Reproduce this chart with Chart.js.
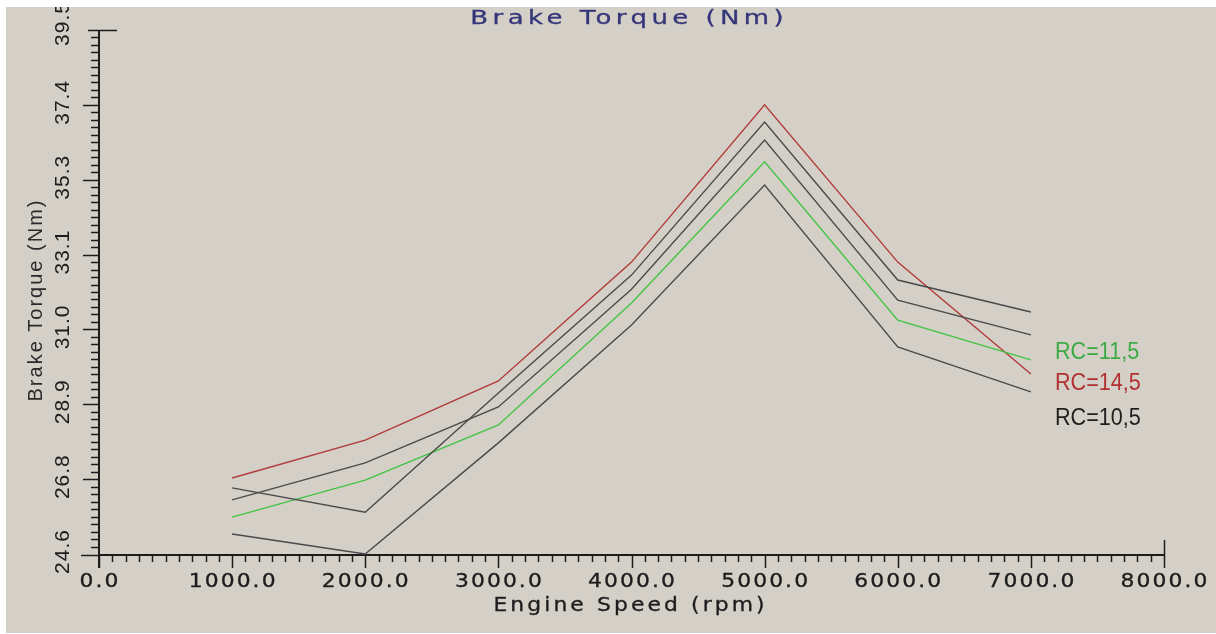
<!DOCTYPE html>
<html>
<head>
<meta charset="utf-8">
<title>Brake Torque (Nm)</title>
<script src="https://cdn.jsdelivr.net/npm/chart.js@4"></script>
<style>
  html, body { margin: 0; padding: 0; background: #ffffff; }
  canvas { display: block; }
</style>
</head>
<body>
<canvas id="torque" width="1216" height="634"></canvas>
<script>
// Engine speed sample points (rpm)
const rpm = [1000, 2000, 3000, 4000, 5000, 6000, 7000];

// Brake torque (Nm) per compression ratio
const torqueRC145 = [26.76, 27.84, 29.52, 32.90, 37.37, 32.90, 29.72];
const torqueRC115 = [25.65, 26.70, 28.27, 31.74, 35.75, 31.25, 30.12];
const torqueRC105 = [25.17, 24.60, 27.76, 31.11, 35.09, 30.49, 29.21];
// Two further unlabelled runs plotted in dark grey
const torqueGreyA = [26.48, 25.79, 29.18, 32.53, 36.88, 32.39, 31.48];
const torqueGreyB = [26.14, 27.19, 28.78, 32.13, 36.37, 31.82, 30.83];

// Axis tick labels
const xTickLabels = ['0.0', '1000.0', '2000.0', '3000.0', '4000.0', '5000.0', '6000.0', '7000.0', '8000.0'];
const yTickLabels = ['24.6', '26.8', '28.9', '31.0', '33.1', '35.3', '37.4', '39.5'];

// Curve-end legend entries
const legendLabels = ['RC=11,5', 'RC=14,5', 'RC=10,5'];

const X_MIN = 0, X_MAX = 8000;
const Y_MIN = 24.6, Y_MAX = 39.5;
const MINOR_PER_MAJOR = 10;

const BG = '#d4d0c8';
const INK = '#1c1c1c';
const RED = '#b23a3a';
const GREEN = '#43c443';
const GREY = '#4a4a4a';

// Plot panel (grey area) inside the white frame
const PANEL = { left: 6, top: 7, right: 1216, bottom: 633 };

function toPoints(values) {
  return rpm.map((x, i) => ({ x, y: values[i] }));
}

// Draws text with optional letter spacing, horizontal stretch and rotation.
function drawText(ctx, text, x, y, o) {
  const spacing = o.spacing || 0;
  const sx = o.sx || 1;
  ctx.save();
  ctx.translate(x, y);
  if (o.rotate) ctx.rotate(o.rotate);
  ctx.scale(sx, 1);
  ctx.font = o.font;
  ctx.fillStyle = o.color;
  ctx.textBaseline = 'middle';
  ctx.textAlign = 'left';
  ctx.letterSpacing = '0px';
  const w = ctx.measureText(text).width + spacing * (text.length - 1);
  ctx.letterSpacing = spacing + 'px';
  const x0 = o.align === 'left' ? 0 : -w / 2;
  ctx.fillText(text, x0, 0);
  if (o.bold) {
    ctx.strokeStyle = o.color;
    ctx.lineWidth = o.bold;
    ctx.strokeText(text, x0, 0);
  }
  ctx.restore();
}

function clipPanel(ctx) {
  ctx.beginPath();
  ctx.rect(PANEL.left, PANEL.top, PANEL.right - PANEL.left, PANEL.bottom - PANEL.top);
  ctx.clip();
}

const backdrop = {
  id: 'backdrop',
  beforeDraw(chart) {
    const ctx = chart.ctx;
    ctx.save();
    ctx.fillStyle = '#ffffff';
    ctx.fillRect(0, 0, chart.width, chart.height);
    ctx.fillStyle = BG;
    ctx.fillRect(PANEL.left, PANEL.top, PANEL.right - PANEL.left, PANEL.bottom - PANEL.top);
    ctx.restore();
  }
};

const monoLabel = { font: '19px "DejaVu Sans"', color: INK, sx: 1.15, spacing: 1.8, bold: 0.3 };

// Plotter-style axes: outward ticks with minor divisions and end crossbars.
const plotterAxes = {
  id: 'plotterAxes',
  beforeDatasetsDraw(chart) {
    const ctx = chart.ctx;
    const xs = chart.scales.x, ys = chart.scales.y;
    const x0 = xs.getPixelForValue(X_MIN), x1 = xs.getPixelForValue(X_MAX);
    const y0 = ys.getPixelForValue(Y_MIN), y1 = ys.getPixelForValue(Y_MAX);
    const xMajors = xTickLabels.length - 1;
    const yMajors = yTickLabels.length - 1;

    ctx.save();
    clipPanel(ctx);
    ctx.strokeStyle = INK;
    ctx.lineCap = 'butt';

    // axis lines
    ctx.lineWidth = 2;
    ctx.beginPath();
    ctx.moveTo(x0, y0 + 1);
    ctx.lineTo(x1, y0 + 1);
    ctx.moveTo(x0, y1);
    ctx.lineTo(x0, y0 + 14);
    ctx.stroke();

    ctx.lineWidth = 1.5;
    ctx.beginPath();
    // x ticks
    const xn = xMajors * MINOR_PER_MAJOR;
    for (let i = 0; i <= xn; i++) {
      const v = X_MIN + (X_MAX - X_MIN) * i / xn;
      const px = Math.round(xs.getPixelForValue(v)) + 0.5;
      const major = i % MINOR_PER_MAJOR === 0;
      ctx.moveTo(px, y0 + 1);
      ctx.lineTo(px, y0 + (major ? 14 : 8));
    }
    // crossbar at the x end
    ctx.moveTo(Math.round(x1) + 0.5, y0 - 14);
    ctx.lineTo(Math.round(x1) + 0.5, y0 + 9);
    // y ticks
    const yn = yMajors * MINOR_PER_MAJOR;
    for (let i = 0; i <= yn; i++) {
      const v = Y_MIN + (Y_MAX - Y_MIN) * i / yn;
      const py = Math.round(ys.getPixelForValue(v)) + 0.5;
      const major = i % MINOR_PER_MAJOR === 0;
      if (i === yn) {
        ctx.moveTo(x0 - 11, py);
        ctx.lineTo(x0 + 18, py);
      } else if (i === 0) {
        ctx.moveTo(x0 - 18, py + 1);
        ctx.lineTo(x0, py + 1);
      } else {
        ctx.moveTo(x0 - (major ? 16 : 8), py);
        ctx.lineTo(x0, py);
      }
    }
    ctx.stroke();

    // x tick labels
    xTickLabels.forEach((t, i) => {
      const v = X_MIN + (X_MAX - X_MIN) * i / xMajors;
      drawText(ctx, t, xs.getPixelForValue(v), y0 + 28, monoLabel);
    });
    // y tick labels (rotated)
    yTickLabels.forEach((t, i) => {
      const v = Y_MIN + (Y_MAX - Y_MIN) * i / yMajors;
      let py = ys.getPixelForValue(v) - 2;
      if (i === yMajors) py = 24;
      drawText(ctx, t, 63, py,
        { font: '21px "Liberation Sans"', color: INK, spacing: 1, rotate: -Math.PI / 2 });
    });
    ctx.restore();
  },
  afterDraw(chart) {
    const ctx = chart.ctx;
    ctx.save();
    clipPanel(ctx);
    // top title
    drawText(ctx, 'Brake Torque (Nm)', 627, 19,
      { font: '20px "DejaVu Sans"', color: '#35357a', sx: 1.3, spacing: 3.4, bold: 0.3 });
    // x-axis title
    drawText(ctx, 'Engine Speed (rpm)', 629, 606,
      Object.assign({}, monoLabel, { spacing: 2.7 }));
    // y-axis title
    drawText(ctx, 'Brake Torque (Nm)', 36, 301,
      { font: '20px "Liberation Sans"', color: '#2a2a2a', spacing: 2, rotate: -Math.PI / 2 });
    // curve-end legend
    const legendColors = ['#3dab45', '#b33030', '#1e1e1e'];
    const legendY = [352, 383, 418];
    legendLabels.forEach((t, i) => {
      drawText(ctx, t, 1055, legendY[i],
        { font: '24px "Liberation Sans"', color: legendColors[i], sx: 0.9, align: 'left' });
    });
    ctx.restore();
  }
};

const line = (label, values, color) => ({
  label,
  data: toPoints(values),
  borderColor: color,
  backgroundColor: color,
  borderWidth: 1.4,
  pointRadius: 0,
  tension: 0,
  fill: false,
  clip: false
});

new Chart(document.getElementById('torque'), {
  type: 'line',
  data: {
    datasets: [
      line('grey run A', torqueGreyA, GREY),
      line('grey run B', torqueGreyB, GREY),
      line('RC=10,5', torqueRC105, GREY),
      line('RC=11,5', torqueRC115, GREEN),
      line('RC=14,5', torqueRC145, RED)
    ]
  },
  options: {
    responsive: false,
    animation: false,
    devicePixelRatio: 1,
    layout: { padding: { left: 99, right: 52, top: 30, bottom: 80 } },
    scales: {
      x: { type: 'linear', min: X_MIN, max: X_MAX, display: false },
      y: { type: 'linear', min: Y_MIN, max: Y_MAX, display: false }
    },
    plugins: {
      legend: { display: false },
      title: { display: false },
      tooltip: { enabled: false }
    }
  },
  plugins: [backdrop, plotterAxes]
});
</script>
</body>
</html>
